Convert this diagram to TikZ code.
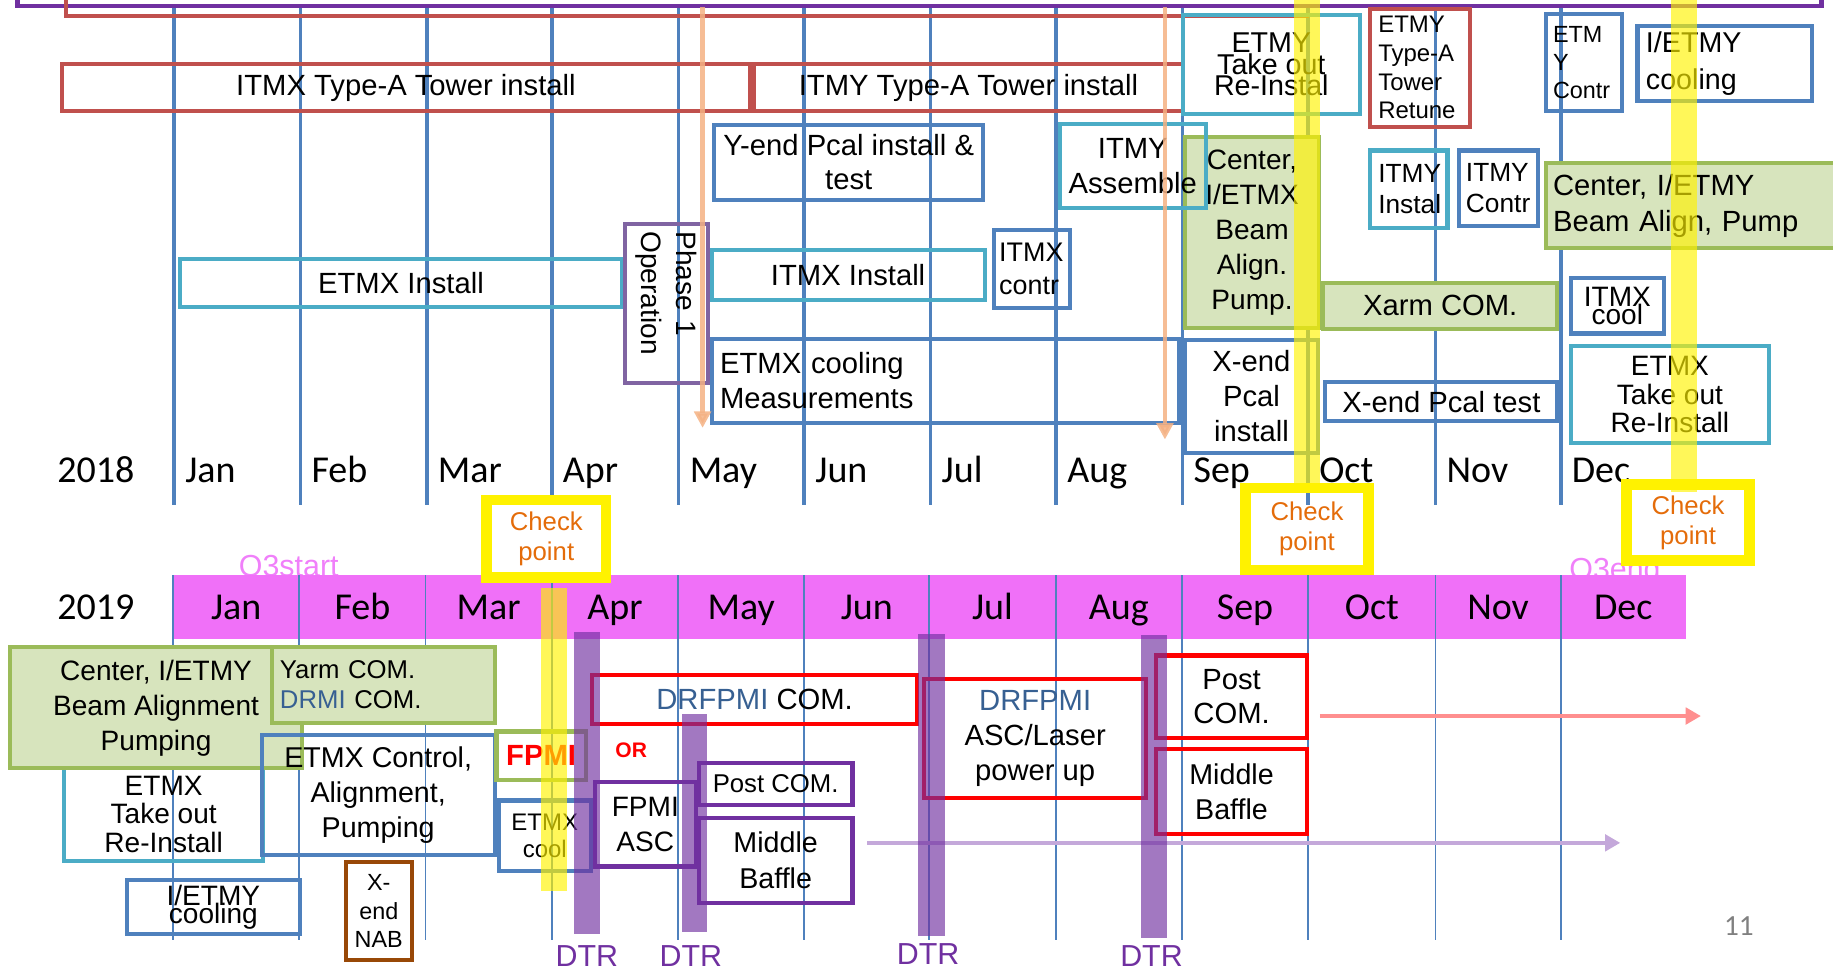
\documentclass[tikz,border=0pt]{standalone}
\usepackage{fontspec}
\setmainfont{Liberation Sans}
\newfontfamily\calib{Carlito}
\usetikzlibrary{arrows.meta,positioning}
\definecolor{monblue}{RGB}{79,129,189}
\definecolor{oldred}{RGB}{192,80,77}
\definecolor{boxcyan}{RGB}{75,172,198}
\definecolor{boxgreen}{RGB}{155,187,89}
\definecolor{greenfill}{RGB}{215,228,189}
\definecolor{ppurple}{RGB}{112,48,160}
\definecolor{phasepurple}{RGB}{128,100,162}
\definecolor{hotred}{RGB}{255,0,0}
\definecolor{drmiblue}{RGB}{55,96,146}
\definecolor{chkorange}{RGB}{228,108,10}
\definecolor{bandmag}{RGB}{240,112,248}
\definecolor{o3mag}{RGB}{240,128,250}
\definecolor{arrowor}{RGB}{244,177,131}
\definecolor{pinkarr}{RGB}{255,143,143}
\definecolor{lavarr}{RGB}{196,168,218}
\definecolor{nabbrown}{RGB}{152,72,7}
\definecolor{pagegray}{RGB}{128,128,128}
\newcommand\tfont[2]{\fontsize{#1}{#2}\selectfont}
\hyphenpenalty=10000
\exhyphenpenalty=10000
\lineskiplimit=-100pt
\tikzset{
    corners/.style n args={4}{
        minimum width={#3-#1-3.5},
        minimum height={#4-#2-3.5},
        at={({(#1+#3)/2},{(#2+#4)/2})}
    },
    task/.style={
        rectangle,
        draw, line width=3.5pt,
        inner sep=0pt,
        align=center,
        font=\tfont{24}{30}
    },
    redtask/.style={task, draw=oldred},
    cyantask/.style={task, draw=boxcyan},
    bluetask/.style={task, draw=monblue},
    greentask/.style={task, draw=boxgreen, fill=greenfill},
    purpletask/.style={task, draw=ppurple},
    hottask/.style={task, draw=hotred},
    checkbox/.style={
        rectangle,
        draw=yellow, line width=9pt,
        inner sep=0pt,
        align=center,
        text=chkorange,
        font=\tfont{22}{26}
    },
    monline/.style={draw=monblue, line width=3.2pt},
    thinmon/.style={draw=monblue, line width=1.6pt},
    mon18/.style={anchor=base west, font=\calib\tfont{32.5}{36}},
    mon19/.style={anchor=base, font=\calib\tfont{32.5}{36}},
    o3text/.style={anchor=base, text=o3mag, font=\tfont{26}{30}},
    ybar/.style={fill=yellow, opacity=0.65},
    dtrbar/.style={fill=ppurple, opacity=0.65},
    dtrlabel/.style={anchor=base, text=ppurple, font=\tfont{26}{30}},
    orangearrow/.style={draw=arrowor, line width=4pt, opacity=0.85,
        -{Triangle[length=14pt,width=14pt]}},
    longarrow/.style={line width=4pt, -{Triangle[length=13pt,width=14pt]}}
}

\begin{document}
\begin{tikzpicture}[x=1pt, y=-1pt]
\useasboundingbox (0,0) rectangle (1568,830);
\clip (0,0) rectangle (1568,830);

% 2018 grid
\foreach \mx in {149,257,365,472,580.5,688,796,903.5,1011.5,1119,1228,1335}
    \draw[monline] (\mx,6) -- (\mx,432);
\draw[ppurple, line width=4pt] (15,-10) |- (1558,5) -- (1558,-10);
\draw[oldred, line width=3.5pt] (56.5,-10) |- (1120,14);

% 2018 tasks
\node[redtask, font=\tfont{25}{30}, corners={51.5}{53}{643}{97}] (itmxA) {ITMX Type-A Tower install};
\node[redtask, font=\tfont{25}{30}, corners={643}{53}{1014}{97}] (itmyA) {ITMY Type-A Tower install};
\node[greentask, corners={1012}{115.5}{1130}{282}] (ctrx) {Center,\\I/ETMX\\Beam\\Align.\\Pump.};
\node[cyantask, font=\tfont{24.5}{18.5}, corners={1010}{11}{1165}{99}] (etmyout) {ETMY\\Take out\\Re-Instal};
\node[redtask, font=\tfont{20.5}{24.5}, align=left, text width=71pt, corners={1170}{6}{1259}{110}] (etmyret) {ETMY\\Type-A\\Tower\\Retune};
\node[bluetask, font=\tfont{20}{24.2}, align=left, text width=53pt, corners={1321}{10}{1389}{97}] (etmyctr) {ETM\\Y\\Contr};
\node[bluetask, font=\tfont{24.5}{31.5}, align=left, text width=135pt, corners={1399}{20.5}{1552}{88}] (ietmyc) {I/ETMY\\cooling};
\node[bluetask, font=\tfont{25}{29}, corners={609}{105}{843}{173}] (ypcal) {Y-end Pcal install \&\\test};
\node[cyantask, font=\tfont{25}{30}, corners={905}{104}{1033}{180}] (itmyasm) {ITMY\\Assemble};
\node[greentask, font=\tfont{25}{31}, align=left, text width=244pt, corners={1321}{138}{1580}{214}] (ctry) {Center, I/ETMY\\Beam Align, Pump};
\node[cyantask, font=\tfont{22.5}{26.5}, align=left, text width=52pt, corners={1170}{127}{1240}{197}] (itmyins) {ITMY\\Instal};
\node[bluetask, font=\tfont{22.5}{26.5}, align=left, text width=55pt, corners={1246}{127}{1317}{195}] (itmyctr) {ITMY\\Contr};
\node[cyantask, font=\tfont{25}{30}, corners={152}{220}{534}{264}] (etmxins) {ETMX Install};
\node[task, draw=phasepurple, align=left, text width=123pt, rotate=-90,
      minimum width=135.5pt, minimum height=70.5pt] (phase) at (570,259.5) {Phase 1\\Operation};
\node[cyantask, font=\tfont{25}{30}, corners={607}{212}{844}{258}] (itmxins) {ITMX Install};
\node[bluetask, font=\tfont{23}{27.7}, align=left, text width=56pt, corners={848.5}{195}{917}{265}] (itmxctr) {ITMX\\contr};
\node[greentask, font=\tfont{25}{30}, corners={1130}{240}{1334}{283}] (xarm) {Xarm COM.};
\node[bluetask, font=\tfont{24}{15.5}, corners={1342}{236}{1425}{287}] (itmxcool) {ITMX\\cool};
\node[bluetask, font=\tfont{25}{30}, align=left, text width=385pt, corners={607}{288}{1010}{363.5}] (etmxmeas) {ETMX cooling\\Measurements};
\node[bluetask, font=\tfont{25}{30}, corners={1012}{289}{1129}{389}] (xpcal) {X-end\\Pcal\\install};
\node[bluetask, font=\tfont{25}{30}, corners={1132}{325}{1334}{362}] (xpcaltest) {X-end Pcal test};
\node[cyantask, font=\tfont{24}{24.5}, corners={1342}{294}{1515}{381}] (etmxout) {ETMX\\Take out\\Re-Install};

% 2018 months
\node[mon18, anchor=base] (yr18) at (82,413) {2018};
\foreach \mx/\mn in {149/Jan,257/Feb,365/Mar,472/Apr,580.5/May,688/Jun,796/Jul,903.5/Aug,1011.5/Sep,1119/Oct,1228/Nov,1335/Dec}
    \node[mon18] (a\mn) at (\mx+6,413) {\mn};

% 2019 band
\node[o3text] (o3s) at (247,493.5) {O3start};
\node[o3text] (o3e) at (1381.5,495.5) {O3end};
\fill[bandmag] (148,492) rectangle (1442,547);
\foreach \mx in {148,256,364,472,580,688,795,903,1011,1119,1228,1335}
    \draw[thinmon] (\mx,492) -- (\mx,804);
\node[mon19] (yr19) at (82,530) {2019};
\foreach \mx/\mn in {202/Jan,310/Feb,418/Mar,526/Apr,634/May,741.5/Jun,849/Jul,957/Aug,1065/Sep,1173.5/Oct,1281.5/Nov,1388.5/Dec}
    \node[mon19] (b\mn) at (\mx,530) {\mn};

% 2019 tasks
\node[cyantask, font=\tfont{24}{24.5}, corners={53}{655}{227}{738}] (etmxout19) {ETMX\\Take out\\Re-Install};
\node[greentask, corners={7}{552}{260}{659}] (ctry19) {Center, I/ETMY\\Beam Alignment\\Pumping};
\node[greentask, font=\tfont{22}{25.5}, align=left, text width=177pt, corners={231}{552}{425}{620}] (yarm) {Yarm COM.\\\textcolor{drmiblue}{DRMI} COM.};
\node[bluetask, font=\tfont{24.5}{30}, corners={222}{627}{425}{733}] (etmxctl) {ETMX Control,\\Alignment,\\Pumping};
\node[bluetask, font=\tfont{24}{15}, corners={107}{751}{258}{801}] (ietmyc19) {I/ETMY\\cooling};
\node[task, draw=nabbrown, font=\tfont{20}{24.5}, corners={294}{736}{354}{823}] (nab) {X-\\end\\NAB};
\node[task, draw=boxgreen, font=\bfseries\tfont{25}{30}, text=hotred, align=left, text width=60pt, corners={423}{624}{503}{669}] (fpmi) {FPMI};
\node[font=\bfseries\tfont{18}{20}, text=hotred, anchor=base] (orlbl) at (540,648) {OR};
\node[bluetask, font=\tfont{20.5}{23.5}, corners={425}{683}{507}{747}] (etmxc19) {ETMX\\cool};
\node[purpletask, corners={507}{667}{597}{743}] (fpmiasc) {FPMI\\ASC};
\node[hottask, font=\tfont{25}{30}, corners={505}{576}{786}{621}] (drcom) {\textcolor{drmiblue}{DRFPMI} COM.};
\node[purpletask, font=\tfont{22}{26}, corners={596}{651}{731}{690}] (postA) {Post COM.};
\node[purpletask, font=\tfont{24.5}{31}, corners={596}{698}{731}{774}] (bafA) {Middle\\Baffle};
\node[hottask, font=\tfont{25}{30}, corners={789}{579}{982}{684}] (drasc) {\textcolor{drmiblue}{DRFPMI}\\ASC/Laser\\power up};
\node[hottask, font=\tfont{25}{29}, corners={987}{559}{1120}{633}] (postB) {Post\\COM.};
\node[hottask, font=\tfont{24.5}{30}, corners={987}{639}{1120}{715}] (bafB) {Middle\\Baffle};

% arrows
\coordinate (pinkS) at (1129,612.5);
\coordinate (pinkE) at (1455,612.5);
\coordinate (lavS) at (742,721);
\coordinate (lavE) at (1386,721);
\draw[longarrow, draw=pinkarr, fill=pinkarr] (pinkS) -- (pinkE);
\draw[longarrow, draw=lavarr, fill=lavarr] (lavS) -- (lavE);
\coordinate (orA) at (601,6);
\coordinate (orAend) at (601,366);
\coordinate (orB) at (996.5,6);
\coordinate (orBend) at (996.5,376);
\draw[orangearrow] (orA) -- (orAend);
\draw[orangearrow] (orB) -- (orBend);

% check points and DTR
\fill[ybar] (1107,0) rectangle (1129,413);
\fill[ybar] (1429,0) rectangle (1452,421);
\fill[ybar] (463,503) rectangle (485,762);
\node[checkbox, minimum width=102pt, minimum height=66pt] (chk1) at (467.3,460.8) {Check\\point};
\node[checkbox, minimum width=105pt, minimum height=70pt] (chk2) at (1118,452.5) {Check\\point};
\node[checkbox, minimum width=105pt, minimum height=65pt] (chk3) at (1444,447) {Check\\point};
\fill[dtrbar] (491,541) rectangle (513,799);
\fill[dtrbar] (583,611) rectangle (605,797);
\fill[dtrbar] (785,542) rectangle (808,801);
\fill[dtrbar] (976,543) rectangle (998,802);
\node[dtrlabel] (dtr1) at (502,826.5) {DTR};
\node[dtrlabel] (dtr2) at (591,826.5) {DTR};
\node[dtrlabel] (dtr3) at (794,825) {DTR};
\node[dtrlabel] (dtr4) at (985,826.5) {DTR};

\node[font=\calib\tfont{25}{28}, text=pagegray, anchor=base] (pageno) at (1487.5,800.6) {11};
\end{tikzpicture}
\end{document}
